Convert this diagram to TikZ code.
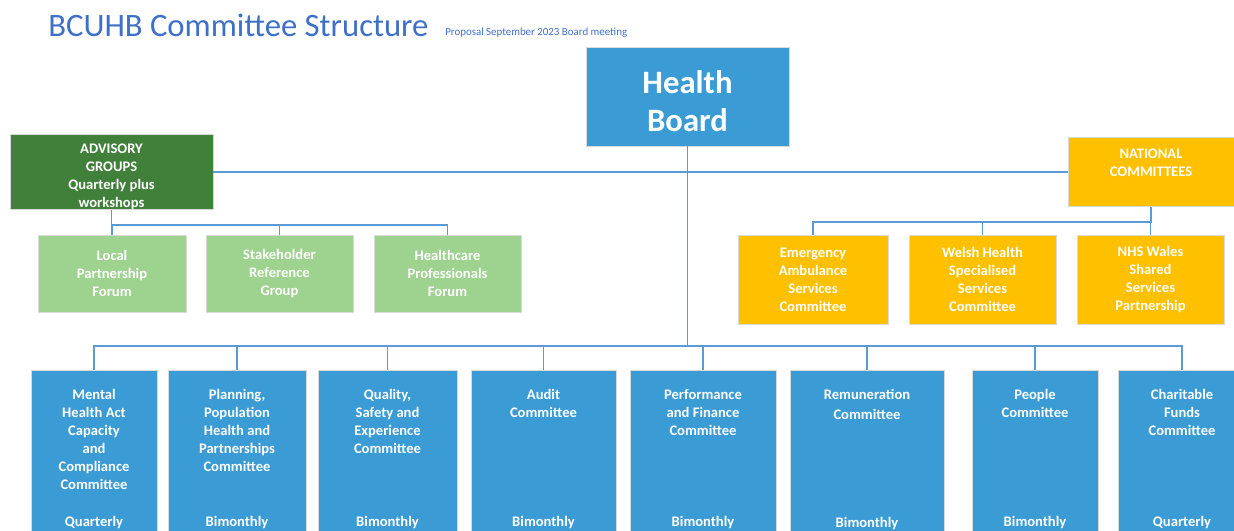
\documentclass[tikz,border=0pt]{standalone}
\usepackage{fontspec}
\setmainfont{Carlito}
\usepackage{xcolor}

\definecolor{bleu}{RGB}{58,155,213}
\definecolor{bleulien}{RGB}{91,155,213}
\definecolor{vertfonce}{RGB}{65,128,58}
\definecolor{vertclair}{RGB}{158,210,143}
\definecolor{jaune}{RGB}{255,192,0}
\definecolor{titre}{RGB}{62,112,200}

\newcommand{\petit}{\bfseries\fontsize{8.3}{10.2}\selectfont}

\tikzset{
	boite/.style n args={2}{draw=black!15,inner sep=0pt,minimum width=#1*0.2mm,minimum height=#2*0.2mm,text=white,align=center,font=\petit},
	texte/.style={inner sep=0pt,text=white,align=center,font=\petit},
	trait/.style={draw=bleulien,line width=0.8pt},
}

\begin{document}
\begin{tikzpicture}[x=0.2mm,y=-0.2mm]
	\useasboundingbox (0,0) rectangle (1234,531);
	\node[anchor=base west,inner sep=0pt,text=titre,font=\fontsize{18.6}{21}\selectfont] (titre) at (48,37) {BCUHB Committee Structure};
	\node[anchor=base west,inner sep=0pt,text=titre,font=\fontsize{6.2}{7}\selectfont] (proposition) at (445,36) {Proposal September 2023 Board meeting};

	\node[boite={203}{99},fill=bleu] (hb) at (687.5,96.5) {};
	\node[texte,font=\bfseries\fontsize{18.6}{21.6}\selectfont] (hbt) at (687.5,101) {Health\\Board};

	% groupes consultatifs
	\node[boite={203}{75},fill=vertfonce] (adv) at (111.5,172) {};
	\node[texte] (advt) at (111.5,177) {ADVISORY\\GROUPS\\Quarterly plus\\workshops};
	\node[boite={148}{77},fill=vertclair] (lpf) at (112,273.5) {Local\\Partnership\\Forum};
	\node[boite={147}{77},fill=vertclair] (srg) at (279.5,273.5) {Stakeholder\\Reference\\Group};
	\node[boite={147}{77},fill=vertclair] (hpf) at (447.5,273.5) {Healthcare\\Professionals\\Forum};

	% comites nationaux
	\node[boite={166}{69},fill=jaune] (nat) at (1151,172) {NATIONAL\\COMMITTEES\\~};
	\node[boite={150}{89},fill=jaune] (eas) at (813,279.5) {Emergency\\Ambulance\\Services\\Committee};
	\node[boite={147}{89},fill=jaune] (whs) at (982.5,279.5) {Welsh Health\\Specialised\\Services\\Committee};
	\node[boite={147}{89},fill=jaune] (nws) at (1150.5,279.5) {NHS Wales\\Shared\\Services\\Partnership};

	% comites du conseil
	\node[boite={126}{176},fill=bleu] (m1) at (94,458) {};
	\node[boite={138}{176},fill=bleu] (m2) at (237,458) {};
	\node[boite={139}{176},fill=bleu] (m3) at (387.5,458) {};
	\node[boite={145}{176},fill=bleu] (m4) at (543.5,458) {};
	\node[boite={146}{176},fill=bleu] (m5) at (703,458) {};
	\node[boite={154}{176},fill=bleu] (m6) at (867,458) {};
	\node[boite={126}{176},fill=bleu] (m7) at (1035,458) {};
	\node[boite={128}{176},fill=bleu] (m8) at (1182,458) {};

	\node[texte,anchor=north] (m1t) at (94,389) {Mental\\Health Act\\Capacity\\and\\Compliance\\Committee};
	\node[texte,anchor=north] (m2t) at (237,389) {Planning,\\Population\\Health and\\Partnerships\\Committee};
	\node[texte,anchor=north] (m3t) at (387.5,389) {Quality,\\Safety and\\Experience\\Committee};
	\node[texte,anchor=north] (m4t) at (543.5,389) {Audit\\Committee};
	\node[texte,anchor=north] (m5t) at (703,389) {Performance\\and Finance\\Committee};
	\node[texte,anchor=north] (m6t) at (867,389) {Remuneration\\[0.4mm]Committee};
	\node[texte,anchor=north] (m7t) at (1035,389) {People\\Committee};
	\node[texte,anchor=north] (m8t) at (1182,389) {Charitable\\Funds\\Committee};

	\node[texte,anchor=base] (m1f) at (94,527) {Quarterly};
	\node[texte,anchor=base] (m2f) at (237,527) {Bimonthly};
	\node[texte,anchor=base] (m3f) at (387.5,527) {Bimonthly};
	\node[texte,anchor=base] (m4f) at (543.5,527) {Bimonthly};
	\node[texte,anchor=base] (m5f) at (703,527) {Bimonthly};
	\node[texte,anchor=base] (m6f) at (867,528) {Bimonthly};
	\node[texte,anchor=base] (m7f) at (1035,527) {Bimonthly};
	\node[texte,anchor=base] (m8f) at (1182,527) {Quarterly};

	% liaisons
	\coordinate (bus) at (687.5,346);
	\draw[trait] (hb.south) -- (bus);
	\foreach \m in {m1,m2,m3,m4,m5,m6,m7,m8}
		\draw[trait] (bus) -| (\m.north);
	\draw[trait] (adv.east) -- (nat.west);
	\coordinate (ga) at (111.5,225);
	\draw[trait] (adv.south) -- (ga);
	\foreach \g in {lpf,srg,hpf}
		\draw[trait] (ga) -| (\g.north);
	\coordinate (na) at (1151,222);
	\draw[trait] (nat.south) -- (na);
	\foreach \g in {eas,whs,nws}
		\draw[trait] (na) -| (\g.north);
\end{tikzpicture}
\end{document}
